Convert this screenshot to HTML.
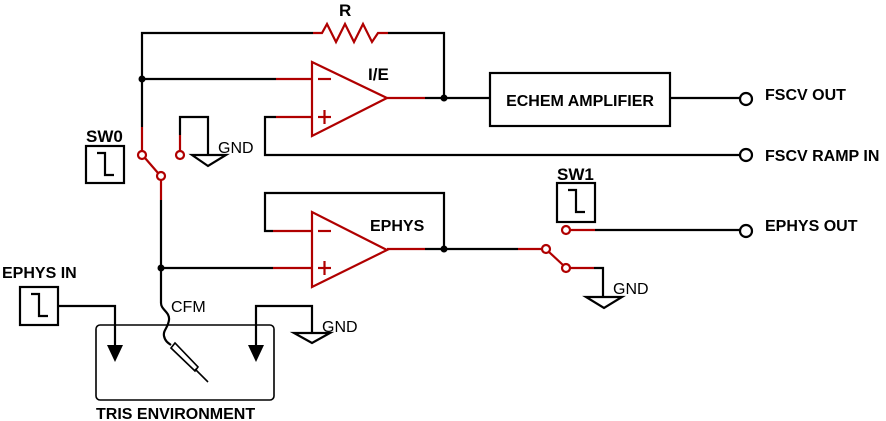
<!DOCTYPE html>
<html><head><style>body{margin:0;background:#fff}svg{display:block}</style></head><body>
<svg width="886" height="421" viewBox="0 0 886 421" xmlns="http://www.w3.org/2000/svg" font-family="Liberation Sans, Arial, sans-serif">
<g fill="none" stroke="#000" stroke-width="2.2">
<polyline points="142,127 142,33 313,33"/>
<polyline points="388,33 444,33 444,98"/>
<line x1="142" y1="79" x2="276" y2="79"/>
<polyline points="276,117 265,117 265,155 740,155"/>
<line x1="425" y1="98" x2="490" y2="98"/>
<rect x="490" y="73" width="180" height="53"/>
<line x1="670" y1="98" x2="740" y2="98"/>
<circle cx="746" cy="99" r="6"/>
<circle cx="746" cy="155" r="6"/>
<polyline points="180,135 180,117 208,117 208,155"/>
<polygon points="192,155 226,155 208,166"/>
<path d="M161,200 L161,303 C161,310 170,312 169,320 C168,328 163,330 164,336 C165,341 168,343 171,345"/>
<line x1="161" y1="268" x2="273" y2="268"/>
<polyline points="273,231 265,231 265,193 444,193 444,249"/>
<line x1="425" y1="249" x2="518" y2="249"/>
<line x1="595" y1="230" x2="740" y2="230"/>
<circle cx="746" cy="231" r="6"/>
<polyline points="594,268 603,268 603,297"/>
<polygon points="586,297 622,297 604,308"/>
<rect x="86" y="146" width="38" height="37"/>
<polyline points="97,153 105,153 105,175 114,175"/>
<rect x="557" y="183" width="38" height="39"/>
<polyline points="568,190 576,190 576,212 585,212"/>
<rect x="20" y="287" width="38" height="38"/>
<polyline points="31,294 39,294 39,316 48,316"/>
<rect x="96" y="325" width="178" height="75" rx="4" stroke-width="1.6"/>
<polyline points="58,306 115,306 115,345"/>
<polyline points="256,345 256,306 312,306 312,333"/>
<polygon points="294,333 330,333 312,343"/>
<polygon points="171,348 175,343 198,367 195,371" stroke-width="1.6"/>
<line x1="195" y1="369" x2="208" y2="382" stroke-width="1.6"/>
</g>
<polygon points="107,345 123,345 115,362" fill="#000"/>
<polygon points="248,345 264,345 256,362" fill="#000"/>
<circle cx="142" cy="79" r="3.5" fill="#000"/>
<circle cx="444" cy="98" r="3.5" fill="#000"/>
<circle cx="161" cy="268" r="3.5" fill="#000"/>
<circle cx="444" cy="249" r="3.5" fill="#000"/>
<g fill="none" stroke="#b00000" stroke-width="2.2">
<polyline points="313,33 322,33 327,24 336,42 345,24 354,42 363,24 372,42 378,33 388,33"/>
<polygon points="312,62 312,136 387,98"/>
<line x1="276" y1="79" x2="312" y2="79"/>
<line x1="276" y1="117" x2="312" y2="117"/>
<line x1="387" y1="98" x2="425" y2="98"/>
<line x1="318" y1="79" x2="331" y2="79"/>
<line x1="318" y1="117" x2="331" y2="117"/><line x1="324.5" y1="110" x2="324.5" y2="124"/>
<polygon points="312,212 312,287 387,250"/>
<line x1="273" y1="231" x2="312" y2="231"/>
<line x1="273" y1="268" x2="312" y2="268"/>
<line x1="387" y1="249" x2="425" y2="249"/>
<line x1="318" y1="231" x2="331" y2="231"/>
<line x1="318" y1="268" x2="331" y2="268"/><line x1="324.5" y1="261" x2="324.5" y2="275"/>
<line x1="142" y1="127" x2="142" y2="151"/>
<circle cx="142" cy="155" r="4" fill="#fff"/>
<line x1="145" y1="158" x2="158" y2="173"/>
<circle cx="161" cy="176" r="4" fill="#fff"/>
<line x1="161" y1="180" x2="161" y2="200"/>
<circle cx="180" cy="155" r="4" fill="#fff"/>
<line x1="180" y1="151" x2="180" y2="135"/>
<line x1="518" y1="249" x2="542" y2="249"/>
<circle cx="546" cy="249" r="4" fill="#fff"/>
<line x1="549" y1="252" x2="563" y2="265"/>
<circle cx="566" cy="268" r="4" fill="#fff"/>
<line x1="570" y1="268" x2="594" y2="268"/>
<circle cx="566" cy="230" r="4" fill="#fff"/>
<line x1="570" y1="230" x2="595" y2="230"/>
</g>
<g font-weight="bold" font-size="16" fill="#000">
<text x="339" y="16" font-size="17">R</text>
<text x="368" y="80" font-size="17">I/E</text>
<text x="370" y="231">EPHYS</text>
<text x="580" y="106" text-anchor="middle">ECHEM AMPLIFIER</text>
<text x="765" y="100">FSCV OUT</text>
<text x="765" y="161">FSCV RAMP IN</text>
<text x="765" y="231">EPHYS OUT</text>
<text x="86" y="142" font-size="17">SW0</text>
<text x="557" y="180" font-size="17">SW1</text>
<text x="2" y="278">EPHYS IN</text>
<text x="96" y="419">TRIS ENVIRONMENT</text>
</g>
<g font-size="16" fill="#000">
<text x="218" y="153">GND</text>
<text x="613" y="294">GND</text>
<text x="322" y="332">GND</text>
<text x="171" y="312">CFM</text>
</g>
</svg>
</body></html>
